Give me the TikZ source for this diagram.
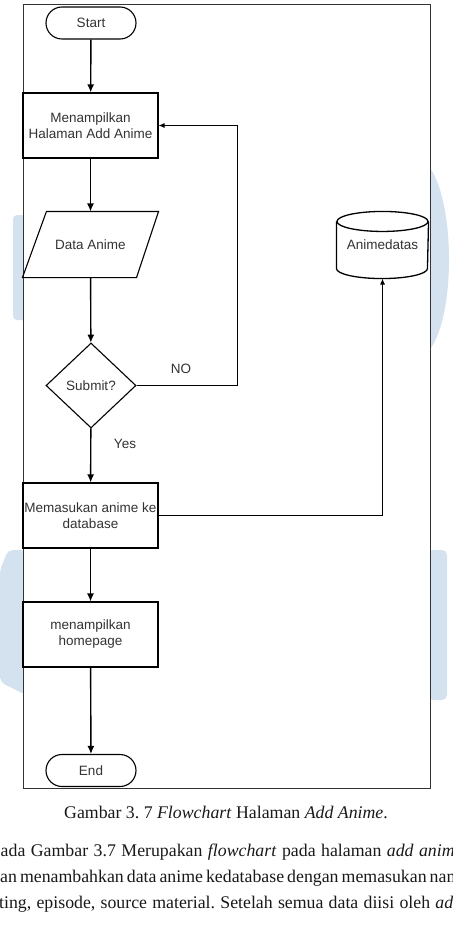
\documentclass[tikz,border=0pt]{standalone}
\usepackage{fontspec}
\setmainfont{Liberation Serif}
\newfontfamily\chartfont{Liberation Sans}
\usetikzlibrary{arrows.meta,shapes.geometric}
\definecolor{umnblue}{RGB}{212,226,240}
\definecolor{inkgray}{RGB}{51,51,51}
\frenchspacing

\begin{document}
\begin{tikzpicture}[
		x=1pt, y=-1pt,
		arrow/.style={-{Latex[length=8pt,width=7pt]}, line width=1.4pt},
		thinarrow/.style={-{Latex[length=6pt,width=5pt]}, line width=0.9pt},
		block/.style={draw, line width=1.1pt, minimum width=135pt, minimum height=65pt, inner sep=0pt, align=center, text=inkgray, font=\chartfont\fontsize{13.5}{16}\selectfont},
		terminal/.style={block, rounded corners=16pt, minimum width=90pt, minimum height=32pt},
		decision/.style={block, diamond, minimum width=90pt, minimum height=85pt},
		ghost/.style={block, draw=none},
		flowlabel/.style={text=inkgray, font=\chartfont\fontsize{13.5}{16}\selectfont},
		bodytext/.style={anchor=base west, inner sep=0pt, text=black!90, font=\fontsize{17.8}{20}\selectfont},
	]
		\useasboundingbox (0,0) rectangle (452,928);
		\clip (0,0) rectangle (452,928);
		
		% watermark behind the frame
		\fill[umnblue, rounded corners=4pt] (13,215) rectangle (26,320);
		\fill[umnblue] (428,165) .. controls (456,200) and (456,320) .. (428,352) -- cycle;
		\fill[umnblue, rounded corners=5pt] (8,550) -- (26,550) -- (26,695) -- (0,682) -- (0,570) -- cycle;
		\fill[umnblue, rounded corners=5pt] (428,550) rectangle (447,700);
		
		\draw[draw=inkgray, fill=white, line width=1pt] (23,5) rectangle (430,788);
		
		\node[terminal] (start) at (91,23) {Start};
		\node[block] (show) at (90.5,125.5) {Menampilkan\\Halaman Add Anime};
		\node[ghost] (data) at (90.5,244.5) {Data Anime};
		\draw[line width=1.1pt] ([xshift=24pt]data.north west) -- (data.north east) -- ([xshift=-22pt]data.south east) -- (data.south west) -- cycle;
		\node[decision] (submit) at (91,385.5) {Submit?};
		\node[ghost, minimum width=91pt, minimum height=66pt] (db) at (382.5,245) {Animedatas};
		\draw[line width=1.3pt] ([yshift=-10pt]db.north west) -- ([yshift=10pt]db.south west)
			arc[start angle=180, end angle=360, x radius=45.5pt, y radius=10pt] -- ([yshift=-10pt]db.north east);
		\draw[line width=1.3pt] ([yshift=-10pt]db.north) ellipse[x radius=45.5pt, y radius=10pt];
		\node[block] (insert) at (90.5,515.5) {Memasukan anime ke\\database};
		\node[block] (home) at (90.5,634.5) {menampilkan\\homepage};
		\node[terminal] (end) at (91,770.5) {End};
		
		\coordinate (loop) at (237,125.5);
		\node[flowlabel] (no) at (181,369) {NO};
		\node[flowlabel] (yes) at (125,444) {Yes};
		
		\draw[arrow] (start) -- (show);
		\draw[arrow] (show) -- (data);
		\draw[arrow] (data) -- (submit);
		\draw[arrow] (submit) -- (insert);
		\draw[arrow] (insert) -- (home);
		\draw[arrow] (home) -- (end);
		\draw[thinarrow] (submit.east) -| (loop) -- (show.east);
		\draw[thinarrow] (insert.east) -| (db.south);
		
		% caption and running text
		\node[anchor=base, inner sep=0pt, text=black!90, font=\fontsize{17.8}{20}\selectfont] (caption) at (226,818) {Gambar 3. 7 \emph{Flowchart} Halaman \emph{Add Anime}.};
		\node[bodytext] (line1) at (0.5,856) {\makebox[454pt][s]{ada Gambar 3.7 Merupakan \emph{flowchart} pada halaman \emph{add anim}}};
		\node[bodytext] (line2) at (0,882) {\makebox[468pt][s]{an menambahkan data anime kedatabase dengan memasukan nama}};
		\node[bodytext] (line3) at (-1,908) {\makebox[454pt][s]{ting, episode, source material. Setelah semua data diisi oleh \emph{ad}}};
	\end{tikzpicture}
\end{document}
